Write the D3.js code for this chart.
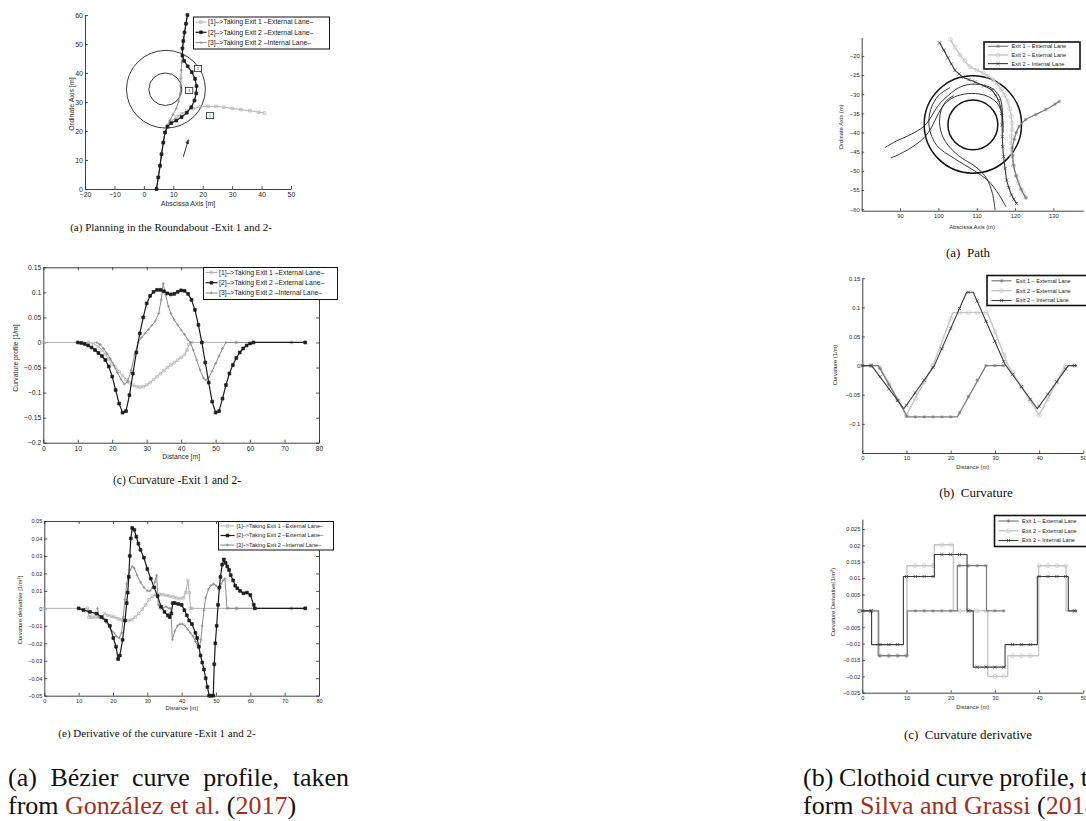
<!DOCTYPE html>
<html>
<head>
<meta charset="utf-8">
<script src="https://cdn.jsdelivr.net/npm/d3@7"></script>
<style>
  body { margin: 0; background: #fff; }
  svg { display: block; }
</style>
</head>
<body>
<svg id="fig" width="1086" height="821"></svg>
<script>
// ---------------- Bézier profile (left column) ----------------
const bezLabels = [
  "[1]–>Taking Exit 1 –External Lane–",
  "[2]–>Taking Exit 2 –External Lane–",
  "[3]–>Taking Exit 2 –Internal Lane–"
];
const bezXTicks = [-20, -10, 0, 10, 20, 30, 40, 50];
const bezYTicks = [0, 10, 20, 30, 40, 50, 60];
const distTicks80 = [0, 10, 20, 30, 40, 50, 60, 70, 80];
const bezCurvYTicks = [-0.2, -0.15, -0.1, -0.05, 0, 0.05, 0.1, 0.15];
const bezDerivYTicks = [-0.05, -0.04, -0.03, -0.02, -0.01, 0, 0.01, 0.02, 0.03, 0.04, 0.05];

// roundabout rings [cx, cy, r] in metres
const bezRings = [[7.5, 34.4, 13.4], [7.3, 34.4, 5.6]];

// planned trajectories [x, y] in metres
const bezPath1 = [[4.3,0],[4.9,4],[5.5,8],[6.0,12],[6.6,16],[7.2,19.5],[8.0,21.6],[9.4,23.4],[11.1,24.9],[12.8,25.9],[14.5,26.9],[16.8,27.7],[19.1,28.3],[21.8,28.5],[24.5,28.5],[27.2,28.2],[30,27.8],[33,27.4],[36,27.0],[39,26.5],[41,26.2]];
const bezPath2 = [[4.3,0],[4.9,4],[5.5,8],[6.0,12],[6.6,16],[7.2,19.5],[8.0,21.5],[9.3,22.7],[11.0,23.6],[12.8,24.8],[14.6,26.3],[16.1,28.2],[17.2,30.5],[17.8,33],[17.9,35.5],[17.4,38],[16.3,40.3],[14.9,42.3],[13.7,44.2],[13.1,46],[13.1,48.5],[13.4,51],[13.8,54],[14.3,57],[14.8,60]];
const bezPath3 = [[4.3,0],[4.9,4],[5.5,8],[6.0,12],[6.6,16],[7.2,19.5],[7.9,21.8],[8.8,23.6],[9.9,25.6],[11.0,27.8],[11.8,30.2],[12.3,32.8],[12.5,35.5],[12.6,38.2],[12.7,41],[12.9,43.8],[13.1,46],[13.2,48.5],[13.5,51],[13.9,54],[14.4,57],[14.9,60]];

// numbered tags [x, y, label] and the heading arrow [[x0,y0],[x1,y1]]
const bezTags = [[18.4, 41.6, "2"], [15.4, 34.0, "3"], [22.5, 25.3, "1"]];
const bezArrow = [[13.4, 11.1], [15.1, 16.9]];

// curvature profile [distance m, curvature 1/m]
const bezCurv1 = [[0,0],[11.5,0],[13,0],[14.5,-0.002],[16,-0.008],[17,-0.015],[18,-0.024],[19,-0.033],[20,-0.042],[21,-0.050],[22,-0.058],[23,-0.066],[24,-0.074],[25,-0.080],[26,-0.085],[27,-0.088],[28,-0.089],[29,-0.088],[30,-0.085],[31,-0.080],[32,-0.074],[33,-0.068],[34,-0.062],[35,-0.056],[36,-0.050],[37,-0.045],[38,-0.040],[39,-0.035],[40,-0.030],[41,-0.024],[41.7,-0.015],[42.3,-0.004],[43,0],[56,0],[72,0],[76,0]];
const bezCurv2 = [[10,0],[11,-0.001],[12,-0.003],[13,-0.006],[14,-0.010],[15,-0.015],[16,-0.021],[17,-0.027],[18,-0.035],[19,-0.048],[20,-0.068],[21,-0.095],[22,-0.122],[23,-0.140],[24,-0.137],[25,-0.105],[26,-0.062],[27,-0.020],[28,0.018],[29,0.050],[30,0.078],[31,0.093],[32,0.101],[33,0.105],[34,0.105],[35,0.102],[36,0.098],[37,0.096],[38,0.097],[39,0.101],[40,0.104],[41,0.103],[42,0.097],[43,0.085],[44,0.065],[45,0.035],[46,0.000],[47,-0.040],[48,-0.080],[49,-0.118],[50,-0.140],[51,-0.137],[52,-0.112],[53,-0.085],[54,-0.062],[55,-0.045],[56,-0.031],[57,-0.020],[58,-0.012],[59,-0.006],[60,-0.002],[61,0],[76,0]];
const bezCurv3 = [[15.5,0],[16.5,-0.004],[17.5,-0.012],[18.5,-0.022],[19.5,-0.033],[20.5,-0.046],[21.5,-0.060],[22.5,-0.073],[23.5,-0.083],[24.5,-0.078],[25.5,-0.055],[26.5,-0.025],[27.5,0.0],[28.5,0.010],[29.5,0.018],[30.5,0.026],[31.5,0.034],[32.5,0.043],[33.5,0.058],[34.2,0.085],[34.8,0.118],[35.5,0.095],[36.3,0.072],[37,0.058],[38,0.045],[39,0.035],[40,0.025],[41,0.016],[42,0.005],[42.7,0.0],[43.5,-0.015],[44.5,-0.035],[45.5,-0.055],[46.5,-0.071],[47.1,-0.075],[48,-0.070],[49,-0.057],[50,-0.042],[51,-0.027],[52,-0.012],[53,0],[56,0],[72,0],[76,0]];

// derivative of the curvature [distance m, 1/m^2]
const bezDeriv1 = [[0,0],[12.5,0],[13,-0.005],[13.5,-0.005],[14,-0.005],[15,-0.005],[16,-0.005],[17,-0.005],[17.5,-0.003],[18.5,-0.004],[19.5,-0.0045],[20.5,-0.005],[21.5,-0.006],[22.5,-0.0065],[23.5,-0.007],[24.5,-0.007],[25.5,-0.0065],[26.5,-0.005],[27.5,-0.003],[28.5,-0.0005],[29.5,0.002],[30.5,0.005],[31.5,0.007],[32.5,0.008],[33.5,0.008],[34.5,0.0078],[35.5,0.0074],[36.5,0.007],[37.5,0.0065],[38.5,0.006],[39.5,0.0055],[40.5,0.006],[41.2,0.009],[41.8,0.016],[42.2,0.009],[42.6,0],[43,0],[56,0],[72,0],[76,0]];
const bezDeriv2 = [[10,0],[11.4,-0.001],[13.3,-0.002],[15.2,-0.003],[16.7,-0.005],[18,-0.007],[19.1,-0.010],[20.1,-0.017],[20.9,-0.022],[21.5,-0.029],[22,-0.027],[22.8,-0.018],[23.5,-0.007],[24,0.003],[24.3,0.009],[24.6,0.018],[24.9,0.030],[25.2,0.040],[25.6,0.046],[26.2,0.045],[26.8,0.041],[27.4,0.037],[28,0.0335],[29,0.029],[30,0.0225],[31,0.017],[32,0.012],[33,0.007],[34,0.001],[35,-0.002],[36,-0.004],[36.5,-0.005],[37,-0.003],[37.4,0.003],[38,0.003],[39,0.0025],[40,0.002],[40.8,-0.001],[41.5,-0.004],[42.2,-0.007],[43,-0.009],[44,-0.014],[44.5,-0.017],[45,-0.022],[45.5,-0.027],[46,-0.031],[46.5,-0.035],[47,-0.040],[47.5,-0.045],[48,-0.050],[48.5,-0.050],[49.2,-0.050],[49.5,-0.032],[49.8,-0.020],[50.2,-0.010],[50.6,0.002],[51,0.012],[51.3,0.018],[51.8,0.025],[52.3,0.028],[52.8,0.026],[53.3,0.024],[53.8,0.022],[54.3,0.019],[55,0.016],[55.6,0.013],[56.2,0.0115],[57,0.010],[58,0.0086],[59,0.009],[60,0.0076],[61,0.002],[61.3,0],[76,0]];
const bezDeriv3 = [[15.5,0],[16,-0.005],[17,-0.006],[18,-0.008],[19,-0.011],[19.7,-0.013],[20.3,-0.014],[21,-0.016],[21.8,-0.017],[22.5,-0.014],[23,-0.005],[23.5,0.005],[24,0.014],[24.5,0.019],[25,0.022],[25.6,0.024],[26.2,0.023],[27,0.019],[28,0.015],[29,0.012],[30,0.010],[30.8,0.010],[31.5,0.012],[32.2,0.015],[32.7,0.019],[33.2,0.002],[33.7,0],[34.5,0],[35.5,0.001],[36.3,0],[36.8,0],[37.3,-0.018],[38,-0.013],[38.8,-0.010],[39.5,-0.009],[40.3,-0.009],[41,-0.010],[41.8,-0.012],[42.5,-0.014],[43.3,-0.016],[44,-0.019],[44.6,-0.021],[45.2,-0.022],[45.6,-0.018],[46,-0.010],[46.5,-0.001],[47,0.006],[47.8,0.011],[48.5,0.013],[49.3,0.014],[50,0.013],[50.8,0.011],[51.5,0.014],[52,0.016],[52.6,0.017],[53.2,0],[53.7,0],[56,0],[72,0],[76,0]];

// ---------------- Clothoid profile (right column) ----------------
const cloLabels = ["Exit 1 – External Lane", "Exit 2 – External Lane", "Exit 2 – Internal Lane"];
const cloPathXTicks = [90, 100, 110, 120, 130];
const cloPathYTicks = [-60, -55, -50, -45, -40, -35, -30, -25, -20];
const distTicks50 = [0, 10, 20, 30, 40, 50];
const cloCurvYTicks = [-0.1, -0.05, 0, 0.05, 0.1, 0.15];
const cloDerivYTicks = [-0.025, -0.02, -0.015, -0.01, -0.005, 0, 0.005, 0.01, 0.015, 0.02, 0.025];

// roundabout rings [cx, cy, r] in metres
const cloRings = [[109.0, -37.9, 12.7], [109.0, -38.0, 6.5]];

// lane lines without markers [x, y] in metres
const cloLane1 = [[86.1,-43.9],[88.7,-42.4],[93.0,-40.4],[96.3,-38.3],[98.3,-35.6],[100.0,-32.9],[102.6,-30.3],[105.7,-28.1],[108.7,-27.4],[112.0,-27.7],[114.5,-28.8],[116.1,-31.0],[116.7,-34.5],[116.7,-38]];
const cloLane2 = [[87.6,-46.6],[88.7,-46.2],[93.0,-43.9],[96.3,-41.3],[98.3,-38.5],[100.0,-35.0],[102.2,-32.0],[105.0,-30.4],[108.7,-29.8],[112.5,-30.4],[115.3,-32.3],[116.6,-35.2],[116.9,-40]];
const cloLane3 = [[104.0,-30.4],[102.2,-31.6],[100.7,-34.2],[100.4,-38.5],[101.8,-42.3],[105.2,-46.0],[109.8,-49.0],[112.6,-52.0],[114.1,-55.9],[114.8,-60.25]];
const cloLane4 = [[103.0,-28.3],[100.0,-30.4],[98.0,-34.0],[97.6,-38.6],[99.6,-43.4],[104.2,-46.8],[109.4,-50.0],[113.0,-52.6],[115.6,-55.9],[117.65,-59.4]];

// planned clothoid paths [x, y] in metres
const cloPath1 = [[122.8,-57.0],[121.6,-54.8],[120.3,-51.3],[119.6,-48.5],[119.4,-46.1],[119.3,-44],[119.8,-41.8],[120.3,-40.0],[121.1,-38.4],[122.8,-36.6],[125.4,-35.3],[128.0,-34.0],[130.4,-32.6],[131.5,-31.9]];
const cloPath2 = [[103.1,-15.7],[104.3,-17.7],[105.6,-19.7],[106.9,-21.3],[108.2,-22.8],[110.0,-23.7],[111.7,-24.5],[113.0,-25.3],[114.2,-26.2],[115.4,-27.4],[116.4,-28.8],[117.3,-30.3],[118.1,-31.9],[118.6,-33.8],[119.0,-35.8],[119.2,-37.5],[119.2,-39.2],[119.1,-41.0],[119.0,-42.7],[119.1,-44.4],[119.2,-46.1],[119.6,-48.7],[120.3,-51.3],[120.9,-53.1],[121.6,-54.8],[122.2,-55.9],[122.8,-57.0]];
const cloPath3 = [[100.3,-16.6],[101.4,-18.5],[102.5,-20.5],[103.4,-22.1],[104.3,-23.7],[105.4,-24.7],[106.5,-25.6],[108.0,-26.2],[109.6,-26.8],[111.8,-27.8],[113.9,-28.9],[114.9,-30.2],[115.7,-31.6],[116.2,-33.3],[116.5,-35.0],[116.6,-38.0],[116.7,-41.1],[116.8,-43.7],[117.0,-46.3],[117.4,-49.4],[117.8,-52.4],[118.4,-54.4],[119.1,-56.3],[119.7,-57.4],[120.4,-58.5]];

// curvature vertices [distance m, curvature 1/m]
const cloCurv1 = [[0,0],[3.6,0],[10.2,-0.088],[21.5,-0.088],[28,0],[32,0]];
const cloCurv2 = [[0,0],[3.8,0],[10,-0.085],[16,0],[20.5,0.091],[28.3,0.091],[33,0],[40,-0.085],[46,0],[48.6,0]];
const cloCurv3 = [[0,0],[2.1,0],[9.4,-0.074],[16.3,0],[23.6,0.126],[25.1,0.126],[32.3,0.002],[39.6,-0.074],[46.6,0],[48.6,0]];
// curvature at the sampled stations 0, 2, 4, ... m
const cloCurvMk1 = [0,0,-0.005,-0.033,-0.060,-0.087,-0.088,-0.088,-0.088,-0.088,-0.088,-0.081,-0.053,-0.025,0,0,0];
const cloCurvMk2 = [0,0,-0.003,-0.030,-0.058,-0.085,-0.057,-0.028,0,0.032,0.081,0.091,0.091,0.091,0.091,0.058,0.019,-0.012,-0.036,-0.061,-0.085,-0.057,-0.028,0,0];
const cloCurvMk3 = [0,0,-0.019,-0.040,-0.060,-0.068,-0.047,-0.025,-0.003,0.029,0.064,0.098,0.126,0.111,0.076,0.042,0.007,-0.015,-0.036,-0.058,-0.070,-0.049,-0.028,-0.006,0];

// curvature derivative, piecewise constant [distance m, 1/m^2]
const cloDeriv1 = [[0,0],[3.6,0],[3.6,-0.0137],[10.2,-0.0137],[10.2,0],[21.5,0],[21.5,0.0138],[28.1,0.0138],[28.1,0],[32,0]];
const cloDeriv2 = [[0,0],[3.8,0],[3.8,-0.0137],[10.1,-0.0137],[10.1,0.0138],[16.3,0.0138],[16.3,0.0202],[20.6,0.0202],[20.6,0],[28.4,0],[28.4,-0.0200],[32.9,-0.0200],[32.9,-0.0137],[39.9,-0.0137],[39.9,0.0138],[46.1,0.0138],[46.1,0],[48.6,0]];
const cloDeriv3 = [[0,0],[2.1,0],[2.1,-0.0103],[9.3,-0.0103],[9.3,0.0105],[16.3,0.0105],[16.3,0.0172],[23.7,0.0172],[23.7,0],[25.1,0],[25.1,-0.0172],[32.3,-0.0172],[32.3,-0.0103],[39.6,-0.0103],[39.6,0.0105],[46.6,0.0105],[46.6,0],[48.6,0]];
const cloDerivMk1 = [0,0,-0.0137,-0.0137,-0.0137,-0.0137,0,0,0,0,0,0.0138,0.0138,0.0138,0.0138,0,0];
const cloDerivMk2 = [0,0,-0.0137,-0.0137,-0.0137,-0.0137,0.0138,0.0138,0.0138,0.0202,0.0202,0,0,0,0,-0.0200,-0.0200,-0.0137,-0.0137,-0.0137,0.0138,0.0138,0.0138,0.0138,0];
const cloDerivMk3 = [0,0,-0.0103,-0.0103,-0.0103,0.0105,0.0105,0.0105,0.0105,0.0172,0.0172,0.0172,0,-0.0172,-0.0172,-0.0172,-0.0172,-0.0103,-0.0103,-0.0103,0.0105,0.0105,0.0105,0.0105,0];
const stationStep = 2;

// ---------------- drawing ----------------
const SANS = "'Liberation Sans', Arial, Helvetica, sans-serif";
const SERIF = "'Liberation Serif', 'Times New Roman', serif";
const INK = "#2b2b2b";
const svg = d3.select("#fig");
const fmt = d => d === 0 ? "0" : d3.format("~g")(d);

const bezStyle = [
  { color: "#b2b2b2", mark: "sq",   size: 1.3, width: 1.0 },
  { color: "#1c1c1c", mark: "sqf",  size: 1.4, width: 1.2 },
  { color: "#8a8a8a", mark: "plus", size: 1.5, width: 1.0 }
];
const cloStyle = [
  { color: "#7c7c7c", mark: "star", size: 1.7, width: 1.2 },
  { color: "#c6c6c6", mark: "o",    size: 2.0, width: 1.4 },
  { color: "#3c3c3c", mark: "x",    size: 1.6, width: 1.1 }
];

function markerPath(kind, px, py, s) {
  const p = d3.path();
  if (kind === "sq" || kind === "sqf") {
    p.rect(px - s, py - s, 2 * s, 2 * s);
  } else if (kind === "o") {
    p.moveTo(px + s, py); p.arc(px, py, s, 0, 2 * Math.PI);
  } else {
    if (kind === "plus" || kind === "star") {
      p.moveTo(px - s, py); p.lineTo(px + s, py);
      p.moveTo(px, py - s); p.lineTo(px, py + s);
    }
    if (kind === "x" || kind === "star") {
      const d = kind === "star" ? s * 0.75 : s;
      p.moveTo(px - d, py - d); p.lineTo(px + d, py + d);
      p.moveTo(px - d, py + d); p.lineTo(px + d, py - d);
    }
  }
  return p.toString();
}

function drawMarkers(g, pts, x, y, st) {
  g.append("g").selectAll("path").data(pts).join("path")
    .attr("d", d => markerPath(st.mark, x(d[0]), y(d[1]), st.size))
    .attr("fill", st.mark === "sqf" ? st.color : "none")
    .attr("stroke", st.color).attr("stroke-width", 0.7);
}

function drawSeries(g, pts, x, y, st, curve, withMarks = true) {
  const line = d3.line().x(d => x(d[0])).y(d => y(d[1])).curve(curve || d3.curveLinear);
  g.append("path").datum(pts).attr("d", line)
    .attr("fill", "none").attr("stroke", st.color).attr("stroke-width", st.width)
    .attr("stroke-linejoin", "round");
  if (withMarks) drawMarkers(g, pts, x, y, st);
}

function styleAxis(sel, fs) {
  sel.select(".domain").attr("stroke", INK).attr("stroke-width", 0.9);
  sel.selectAll(".tick line").attr("stroke", INK).attr("stroke-width", 0.8);
  sel.selectAll(".tick text").attr("fill", INK).attr("font-family", SANS).attr("font-size", fs);
}

function frame(g, x, y, o) {
  const [bx0, bx1] = x.range(), [by0, by1] = y.range();
  const bottom = g.append("g").attr("transform", `translate(0,${by0})`)
    .call(d3.axisBottom(x).tickValues(o.xTicks).tickFormat(fmt)
      .tickSizeInner(-o.tick).tickSizeOuter(0).tickPadding(o.padX));
  const left = g.append("g").attr("transform", `translate(${bx0},0)`)
    .call(d3.axisLeft(y).tickValues(o.yTicks).tickFormat(fmt)
      .tickSizeInner(-o.tick).tickSizeOuter(0).tickPadding(o.padY));
  styleAxis(bottom, o.fs); styleAxis(left, o.fs);
  if (o.box) {
    const top = g.append("g").attr("transform", `translate(0,${by1})`)
      .call(d3.axisTop(x).tickValues(o.xTicks).tickFormat("").tickSizeInner(-o.tick).tickSizeOuter(0));
    const right = g.append("g").attr("transform", `translate(${bx1},0)`)
      .call(d3.axisRight(y).tickValues(o.yTicks).tickFormat("").tickSizeInner(-o.tick).tickSizeOuter(0));
    styleAxis(top, o.fs); styleAxis(right, o.fs);
  }
  // axis titles
  g.append("text").attr("x", (bx0 + bx1) / 2 + (o.xTitleDx || 0)).attr("y", o.xTitleY)
    .attr("text-anchor", "middle").attr("font-family", SANS).attr("font-size", o.titleFs)
    .attr("fill", INK).text(o.xTitle);
  const yt = g.append("text").attr("transform", `translate(${o.yTitleX},${o.yTitleCy}) rotate(-90)`)
    .attr("text-anchor", "middle").attr("font-family", SANS).attr("font-size", o.titleFs)
    .attr("fill", INK);
  yt.text(o.yTitle[0]);
  if (o.yTitle[1]) yt.append("tspan").attr("dy", -o.titleFs * 0.35).attr("font-size", o.titleFs * 0.7).text(o.yTitle[1]);
  if (o.yTitle[2]) yt.append("tspan").attr("dy", o.titleFs * 0.35).text(o.yTitle[2]);
}

function legend(g, L, labels, styles) {
  const box = g.append("g");
  box.append("rect").attr("x", L.x).attr("y", L.y).attr("width", L.w).attr("height", L.h)
    .attr("fill", "#fff").attr("stroke", "#111").attr("stroke-width", L.border);
  labels.forEach((lab, i) => {
    const ry = L.rows[i], st = styles[i];
    box.append("line").attr("x1", L.lx0).attr("x2", L.lx1).attr("y1", ry).attr("y2", ry)
      .attr("stroke", st.color).attr("stroke-width", st.width);
    box.append("path").attr("d", markerPath(st.mark, (L.lx0 + L.lx1) / 2, ry, st.size))
      .attr("fill", st.mark === "sqf" ? st.color : "none").attr("stroke", st.color).attr("stroke-width", 0.7);
    box.append("text").attr("x", L.tx).attr("y", ry).attr("dy", "0.34em")
      .attr("font-family", SANS).attr("font-size", L.fs).attr("fill", "#222").text(lab);
  });
}

function caption(x, y, txt, fs) {
  svg.append("text").attr("x", x).attr("y", y).attr("text-anchor", "middle")
    .attr("font-family", SERIF).attr("font-size", fs).attr("fill", "#111").text(txt);
}

function ellipse(g, x, y, ring, stroke, w) {
  const [cx, cy, r] = ring;
  g.append("ellipse").attr("cx", x(cx)).attr("cy", y(cy))
    .attr("rx", x(cx + r) - x(cx)).attr("ry", y(cy) - y(cy + r))
    .attr("fill", "none").attr("stroke", stroke).attr("stroke-width", w);
}

// ---- left (a): planning in the roundabout ----
{
  const g = svg.append("g");
  const x = d3.scaleLinear().domain([-20, 50]).range([85, 291]);
  const y = d3.scaleLinear().domain([0, 60]).range([189, 15]);
  frame(g, x, y, { xTicks: bezXTicks, yTicks: bezYTicks, tick: 3, padX: 3, padY: 2, fs: 7,
    xTitle: "Abscissa Axis [m]", xTitleY: 206, xTitleDx: 0, titleFs: 7,
    yTitle: ["Ordinate Axis [m]"], yTitleX: 74, yTitleCy: 104 });
  bezRings.forEach(r => ellipse(g, x, y, r, "#222", 0.9));
  drawSeries(g, bezPath1, x, y, bezStyle[0]);
  drawSeries(g, bezPath3, x, y, bezStyle[2]);
  drawSeries(g, bezPath2, x, y, bezStyle[1]);
  const tags = g.append("g").selectAll("g").data(bezTags).join("g")
    .attr("transform", d => `translate(${x(d[0])},${y(d[1])})`);
  tags.append("rect").attr("x", -3.6).attr("y", -3).attr("width", 7.2).attr("height", 6)
    .attr("fill", "#fff").attr("stroke", "#222").attr("stroke-width", 0.8);
  tags.append("text").attr("text-anchor", "middle").attr("dy", "0.33em")
    .attr("font-family", SANS).attr("font-size", 3.5).attr("fill", "#333").text(d => d[2]);
  svg.append("defs").append("marker").attr("id", "head").attr("viewBox", "0 0 10 10")
    .attr("refX", 8).attr("refY", 5).attr("markerWidth", 5).attr("markerHeight", 5)
    .attr("orient", "auto").append("path").attr("d", "M0,1L10,5L0,9Z").attr("fill", "#333");
  g.append("line").attr("x1", x(bezArrow[0][0])).attr("y1", y(bezArrow[0][1]))
    .attr("x2", x(bezArrow[1][0])).attr("y2", y(bezArrow[1][1]))
    .attr("stroke", "#333").attr("stroke-width", 1).attr("marker-end", "url(#head)");
  legend(g, { x: 193.5, y: 17, w: 136, h: 32, border: 1, rows: [22, 32.3, 42.6], lx0: 195.5, lx1: 206.5, tx: 208, fs: 6.8 },
    bezLabels, bezStyle);
  caption(171, 231, "(a) Planning in the Roundabout -Exit 1 and 2-", 11);
}

// ---- left (c): curvature ----
{
  const g = svg.append("g");
  const x = d3.scaleLinear().domain([0, 80]).range([43.3, 319]);
  const y = d3.scaleLinear().domain([-0.2, 0.15]).range([442.7, 267.3]);
  frame(g, x, y, { xTicks: distTicks80, yTicks: bezCurvYTicks, box: true, tick: 3, padX: 3, padY: 2, fs: 6.8,
    xTitle: "Distance [m]", xTitleY: 459, titleFs: 6.8,
    yTitle: ["Curvature profile [1/m]"], yTitleX: 18, yTitleCy: 358 });
  drawSeries(g, bezCurv1, x, y, bezStyle[0]);
  drawSeries(g, bezCurv3, x, y, bezStyle[2]);
  drawSeries(g, bezCurv2, x, y, bezStyle[1]);
  legend(g, { x: 203.5, y: 267.5, w: 134, h: 32, border: 1, rows: [272.5, 282.7, 293], lx0: 205.5, lx1: 217.5, tx: 219, fs: 6.8 },
    bezLabels, bezStyle);
  caption(177, 484, "(c) Curvature -Exit 1 and 2-", 11.5);
}

// ---- left (e): derivative of the curvature ----
{
  const g = svg.append("g");
  const x = d3.scaleLinear().domain([0, 80]).range([44.3, 319]);
  const y = d3.scaleLinear().domain([-0.05, 0.05]).range([695.7, 521]);
  frame(g, x, y, { xTicks: distTicks80, yTicks: bezDerivYTicks, box: true, tick: 3, padX: 3, padY: 2, fs: 5.6,
    xTitle: "Distance [m]", xTitleY: 710, titleFs: 5.8,
    yTitle: ["Curvature derivative [1/m", "2", "]"], yTitleX: 22, yTitleCy: 610 });
  drawSeries(g, bezDeriv1, x, y, bezStyle[0]);
  drawSeries(g, bezDeriv3, x, y, bezStyle[2]);
  drawSeries(g, bezDeriv2, x, y, bezStyle[1]);
  legend(g, { x: 218.5, y: 521.5, w: 115, h: 28.5, border: 1, rows: [526, 535.5, 545], lx0: 220.5, lx1: 234.5, tx: 236.5, fs: 5.6 },
    bezLabels, bezStyle);
  caption(157, 737, "(e) Derivative of the curvature -Exit 1 and 2-", 11);
}

// ---- right (a): path ----
{
  const g = svg.append("g");
  const x = d3.scaleLinear().domain([80, 137.8]).range([861.7, 1083.3]);
  const y = d3.scaleLinear().domain([-60.4, -15.2]).range([210.7, 37.5]);
  frame(g, x, y, { xTicks: cloPathXTicks, yTicks: cloPathYTicks, tick: 2.5, padX: 3, padY: 2, fs: 5.8,
    xTitle: "Abscissa Axis (m)", xTitleY: 229, xTitleDx: -0.5, titleFs: 5.8,
    yTitle: ["Ordinate Axis (m)"], yTitleX: 843, yTitleCy: 127 });
  cloRings.forEach(r => ellipse(g, x, y, r, "#111", 1.5));
  const thin = { color: "#1e1e1e", width: 0.9 };
  [cloLane1, cloLane2, cloLane3, cloLane4].forEach(p => drawSeries(g, p, x, y, thin, d3.curveCatmullRom, false));
  drawSeries(g, cloPath2, x, y, cloStyle[1], d3.curveCatmullRom);
  drawSeries(g, cloPath1, x, y, cloStyle[0], d3.curveCatmullRom);
  drawSeries(g, cloPath3, x, y, cloStyle[2], d3.curveCatmullRom);
  legend(g, { x: 984, y: 42, w: 96, h: 27, border: 1.6, rows: [46.3, 55, 63.6], lx0: 988, lx1: 1008, tx: 1011.5, fs: 5.6 },
    cloLabels, cloStyle);
  caption(968, 257, "(a)\u2002Path", 13);
}

// ---- right (b): curvature ----
{
  const g = svg.append("g");
  const x = d3.scaleLinear().domain([0, 50]).range([862.3, 1083.3]);
  const y = d3.scaleLinear().domain([-0.15, 0.15]).range([453, 278.2]);
  frame(g, x, y, { xTicks: distTicks50, yTicks: cloCurvYTicks, tick: 2.5, padX: 3, padY: 2, fs: 5.8,
    xTitle: "Distance (m)", xTitleY: 469, titleFs: 5.8,
    yTitle: ["Curvature (1/m)"], yTitleX: 837, yTitleCy: 365 });
  const series = [[cloCurv1, cloCurvMk1], [cloCurv2, cloCurvMk2], [cloCurv3, cloCurvMk3]];
  [1, 0, 2].forEach(i => {
    drawSeries(g, series[i][0], x, y, cloStyle[i], null, false);
    drawMarkers(g, series[i][1].map((v, k) => [k * stationStep, v]), x, y, cloStyle[i]);
  });
  legend(g, { x: 987, y: 275.5, w: 100, h: 30, border: 1.6, rows: [280.8, 290.7, 300.5], lx0: 991.5, lx1: 1011.5, tx: 1016, fs: 5.6 },
    cloLabels, cloStyle);
  caption(976, 497, "(b)\u2002Curvature", 13);
}

// ---- right (c): curvature derivative ----
{
  const g = svg.append("g");
  const x = d3.scaleLinear().domain([0, 50]).range([862.3, 1083.3]);
  const y = d3.scaleLinear().domain([-0.025, 0.028]).range([692.7, 519.2]);
  frame(g, x, y, { xTicks: distTicks50, yTicks: cloDerivYTicks, tick: 2.5, padX: 3, padY: 2, fs: 5.6,
    xTitle: "Distance (m)", xTitleY: 709, titleFs: 5.8,
    yTitle: ["Curvature Derivative(1/m", "2", ")"], yTitleX: 835, yTitleCy: 602 });
  const series = [[cloDeriv1, cloDerivMk1], [cloDeriv2, cloDerivMk2], [cloDeriv3, cloDerivMk3]];
  [1, 0, 2].forEach(i => {
    drawSeries(g, series[i][0], x, y, cloStyle[i], null, false);
    drawMarkers(g, series[i][1].map((v, k) => [k * stationStep, v]), x, y, cloStyle[i]);
  });
  legend(g, { x: 994.5, y: 515.5, w: 100, h: 31, border: 1.6, rows: [521, 530.8, 540.5], lx0: 998.5, lx1: 1018.5, tx: 1022, fs: 5.6 },
    cloLabels, cloStyle);
  caption(968, 739, "(c)\u2002Curvature derivative", 13);
}

// ---------------- sub-figure captions ----------------
const RED = "#a3301f";
function richLine(x, y, parts, fs, target, gap) {
  const t = svg.append("text").attr("x", x).attr("y", y).attr("font-family", SERIF).attr("font-size", fs);
  parts.forEach(([s, c]) => t.append("tspan").attr("fill", c).text(s));
  if (target) {
    // justified first line: spread the slack over the word gaps
    const natural = t.node().getComputedTextLength();
    const spaces = parts.map(p => p[0]).join("").split(" ").length - 1;
    if (spaces > 0 && natural < target) t.attr("word-spacing", (target - natural) / spaces);
  } else if (gap) {
    t.attr("word-spacing", gap);
  }
}
richLine(8, 786, [["(a) Bézier curve profile, taken", "#111"]], 26, 341);
richLine(8, 814, [["from ", "#111"], ["González et al.", RED], [" (", "#111"], ["2017", RED], [")", "#111"]], 26);
richLine(803, 786, [["(b) Clothoid curve profile, taken", "#111"]], 26, null, -0.8);
richLine(803, 814, [["form ", "#111"], ["Silva and Grassi", RED], [" (", "#111"], ["2018", RED], [")", "#111"]], 26);
</script>
</body>
</html>
